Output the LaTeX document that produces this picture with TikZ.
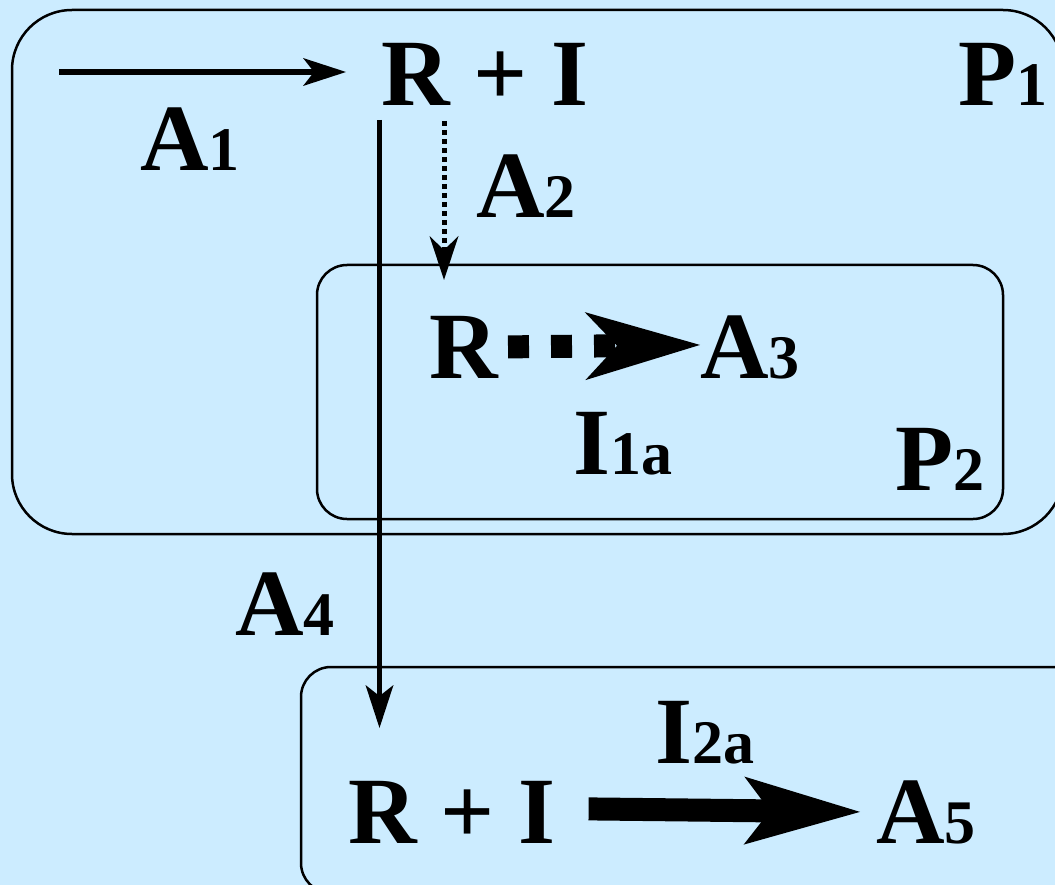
\documentclass[tikz,border=0pt]{standalone}
\usepackage{fontspec}
\setmainfont{Liberation Serif}
\usetikzlibrary{arrows.meta}
\definecolor{bgblue}{RGB}{204,236,255}
\newcommand\sbs[1]{{\fontsize{62}{62}\selectfont #1}}
\begin{document}
\begin{tikzpicture}[x=1pt,y=-1pt,
  txt/.style={font=\fontsize{95}{95}\selectfont\bfseries, inner sep=0pt, anchor=base west},
  box/.style={draw=black, line width=2.5pt},
  thinarrow/.style={line width=5.5pt, -{Stealth[length=43pt,width=28pt,inset=11pt,line width=0pt]}},
  dotarrow/.style={line width=5pt, dash pattern=on 5pt off 4pt, -{Stealth[length=44pt,width=29pt,inset=14pt,line width=0pt]}},
  bigdotarrow/.style={line width=23pt, dash pattern=on 21pt off 22pt, -{Stealth[length=115pt,width=68pt,inset=32pt,line width=0pt]}},
  bigarrow/.style={line width=23pt, -{Stealth[length=116pt,width=68pt,inset=26pt,line width=0pt]}}
]
\useasboundingbox (0,0) rectangle (1055,885);
\clip (0,0) rectangle (1055,885);
\fill[bgblue] (0,0) rectangle (1055,885);
% containers
\draw[box, rounded corners=60pt] (12,10) rectangle (1063,534);
\draw[box, rounded corners=30pt] (317,265) rectangle (1003,519);
\draw[box, rounded corners=30pt] (301,667) rectangle (1110,893);
% texts
\node[txt] (rpi1) at (381,106) {R + I};
\node[txt] (p1) at (958,106) {P\sbs{1}};
\node[txt] (a1) at (140,171) {A\sbs{1}};
\node[txt] (a2) at (476,218) {A\sbs{2}};
\node[txt] (rsm) at (429,378) {R};
\node[txt] (a3) at (700,378) {A\sbs{3}};
\node[txt] (i1a) at (573,474) {I\sbs{1a}};
\node[txt] (p2) at (895,490) {P\sbs{2}};
\node[txt] (a4) at (235,635) {A\sbs{4}};
\node[txt] (rpi2) at (348,843) {R + I};
\node[txt] (i2a) at (655,763) {I\sbs{2a}};
\node[txt] (a5) at (876,843) {A\sbs{5}};
% connector end points
\coordinate (a1s) at (59,72);
\coordinate (a4s) at (379.5,120);
\coordinate (a4e) at (379.5,728);
\coordinate (a2s) at (444,121);
\coordinate (a2e) at (444,280);
% connectors
\draw[thinarrow] (a1s) -- ([xshift=-35pt]rpi1.west |- a1s);
\draw[thinarrow] (a4s) -- (a4e);
\draw[dotarrow] (a2s) -- (a2e);
\draw[bigdotarrow] ([xshift=10pt]rsm.east) -- ([yshift=2pt]a3.west);
\draw[bigarrow] ([xshift=33pt,yshift=3pt]rpi2.east) -- ([xshift=-16pt]rpi2.east -| a5.west);
\end{tikzpicture}
\end{document}
